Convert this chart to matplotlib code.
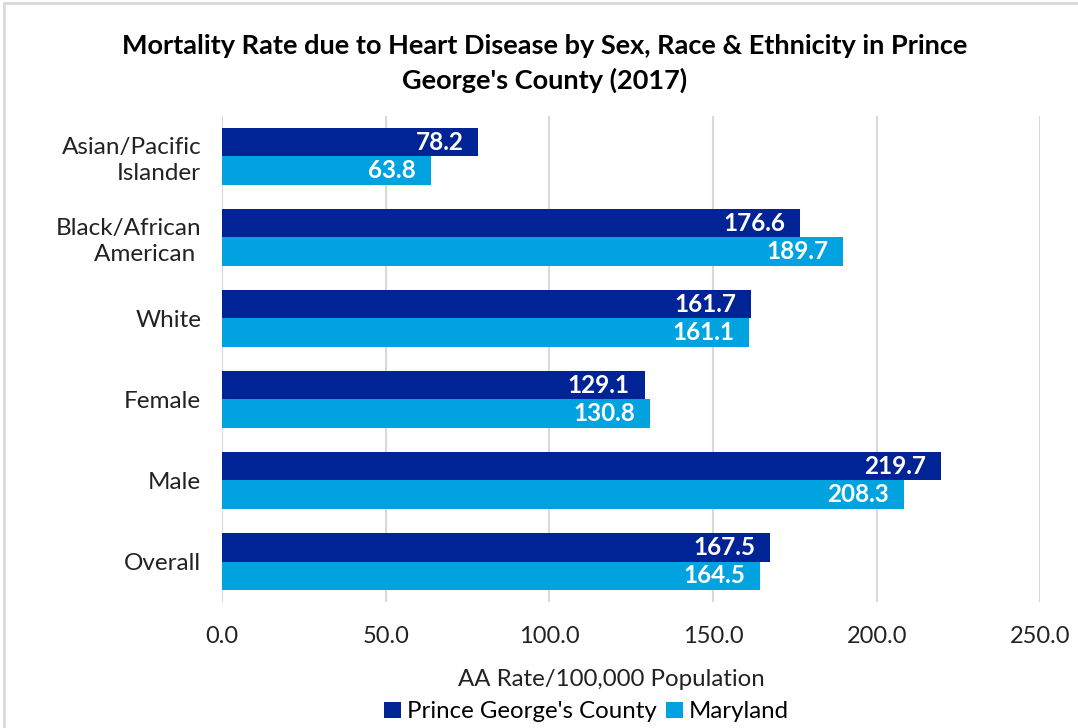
import matplotlib

matplotlib.use('Agg')

from matplotlib import pyplot as plt
from matplotlib.patches import Rectangle
import numpy as np

# 데이터
categories = ['Asian/Pacific\nIslander', 'Black/African\nAmerican ', 'White', 'Female', 'Male', 'Overall']
pg_county = [78.2, 176.6, 161.7, 129.1, 219.7, 167.5]
maryland = [63.8, 189.7, 161.1, 130.8, 208.3, 164.5]
x_ticks = [0, 50, 100, 150, 200, 250]

dark_blue = '#002395'
light_blue = '#00A3E0'

plt.rcParams['font.family'] = ['Lato', 'DejaVu Sans']

fig = plt.figure(figsize=(10.78, 7.28), dpi=100)
ax = fig.add_axes([0.206, 0.173, 0.759, 0.668])

y = np.arange(len(categories))
h = 0.35
bars1 = ax.barh(y - h / 2, pg_county, height=h, color=dark_blue, label="Prince George's County", zorder=3)
bars2 = ax.barh(y + h / 2, maryland, height=h, color=light_blue, label='Maryland', zorder=3)

for bars, vals in [(bars1, pg_county), (bars2, maryland)]:
    for b, v in zip(bars, vals):
        ax.text(v - 4.5, b.get_y() + b.get_height() / 2, f'{v:.1f}', ha='right', va='center',
                color='white', fontsize=17.5, fontweight='bold', zorder=4)

ax.set_ylim(len(categories) - 0.5, -0.5)
ax.set_xlim(0, 250)
ax.set_xticks(x_ticks)
ax.set_xticklabels([f'{t:.1f}' for t in x_ticks], fontsize=17, color='#222222')
ax.set_yticks(y)
ax.set_yticklabels(categories, fontsize=17.5, color='#222222', linespacing=1.3)
ax.tick_params(axis='both', length=0)
ax.tick_params(axis='x', pad=17)
ax.tick_params(axis='y', pad=15)
ax.grid(axis='x', color='#d9d9d9', linewidth=1.5, zorder=0)
for s in ax.spines.values():
    s.set_visible(False)

# x축 제목 / 범례 (차트 영역 기준 위치)
fig.text(0.567, 0.066, 'AA Rate/100,000 Population', fontsize=17.3, color='#222222',
         ha='center', va='center')

fig.suptitle("Mortality Rate due to Heart Disease by Sex, Race & Ethnicity in Prince\nGeorge's County (2017)",
             fontsize=19.5, fontweight='bold', y=0.953, x=0.505, linespacing=1.45)

fig.legend(loc='center', bbox_to_anchor=(0.544, 0.022), ncol=2, frameon=False, fontsize=17.3,
           handlelength=0.7, handleheight=0.7, handletextpad=0.25, columnspacing=0.4, borderaxespad=0)

# 외곽 테두리
fig.patches.append(Rectangle((0.004, -0.05), 1.2, 1.046, transform=fig.transFigure, fill=False,
                             edgecolor='#d9d9d9', linewidth=2))

plt.savefig('out.png', dpi=100)
plt.close()
